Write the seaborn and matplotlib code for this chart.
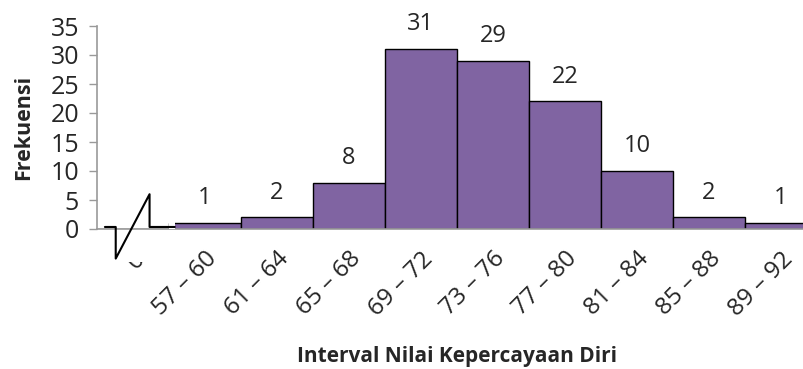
import matplotlib
matplotlib.use("Agg")
import matplotlib.pyplot as plt
from matplotlib.patches import Rectangle
import seaborn as sns
import pandas as pd

# Frequency table
intervals = ["0", "57 – 60", "61 – 64", "65 – 68", "69 – 72", "73 – 76",
             "77 – 80", "81 – 84", "85 – 88", "89 – 92"]
frekuensi = [0, 1, 2, 8, 31, 29, 22, 10, 2, 1]
y_ticks = [0, 5, 10, 15, 20, 25, 30, 35]

sns.set_theme(style="white")
plt.rcParams["font.family"] = ["Open Sans", "DejaVu Sans"]

df = pd.DataFrame({"Interval": intervals, "Frekuensi": frekuensi})

fig = plt.figure(figsize=(8.04, 3.69), dpi=100)
ax = fig.add_axes([97 / 804, 140 / 369, 720 / 804, 203 / 369])

sns.barplot(data=df, x="Interval", y="Frekuensi", color="#8064A2",
            saturation=1, width=1.0, edgecolor="black", linewidth=1.0, ax=ax)

ax.set_xlim(-0.5, 9.5)
ax.set_ylim(0, 35)
ax.set_yticks(y_ticks)
ax.tick_params(axis="y", labelsize=18, length=6, width=1, color="#999999",
               direction="out", pad=7, left=True)
ax.tick_params(axis="x", labelsize=17.5, length=0, pad=13)
plt.setp(ax.get_xticklabels(), rotation=45, ha="right", va="top",
         rotation_mode="anchor")

for s in ["top", "right"]:
    ax.spines[s].set_visible(False)
for s in ["left", "bottom"]:
    ax.spines[s].set_color("#999999")
    ax.spines[s].set_linewidth(1.2)

# value labels above the bars
for i, v in enumerate(frekuensi):
    if i == 0:
        continue
    ax.text(i, v + 2.2, str(v), ha="center", va="bottom", fontsize=17)

# axis break marker on the first (empty) slot
ax.add_patch(Rectangle((0.5, 0.05), 0.08, 1.2, facecolor="white",
                       edgecolor="none", zorder=4.5))
ax.add_patch(Rectangle((0.139, 0.29), 0.05, 0.06, transform=fig.transFigure,
                       facecolor="white", edgecolor="none", clip_on=False,
                       zorder=4.5))
bx = [-0.39, -0.24, -0.24, 0.23, 0.23, 0.58]
by = [0.35, 0.35, -5.1, 6.0, 0.35, 0.35]
ax.plot(bx, by, color="black", lw=1.5, clip_on=False, zorder=5)

ax.set_xlabel("Interval Nilai Kepercayaan Diri", fontsize=15, fontweight="bold",
              labelpad=18)
ax.set_ylabel("Frekuensi", fontsize=15.5, fontweight="bold", labelpad=12)

fig.savefig("out.png", dpi=100)
